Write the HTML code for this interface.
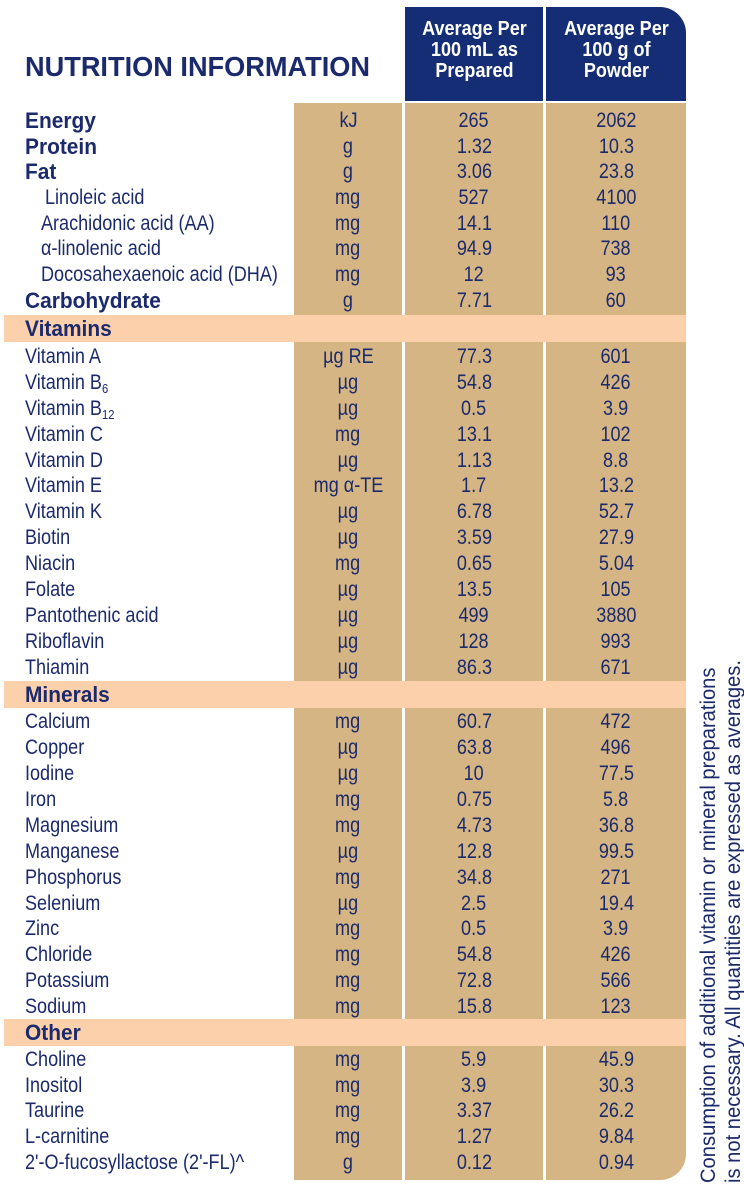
<!DOCTYPE html>
<html><head><meta charset="utf-8"><style>
*{margin:0;padding:0;box-sizing:border-box}
body{width:744px;height:1187px;background:#fff;position:relative;overflow:hidden;font-family:"Liberation Sans",Arial,sans-serif;color:#1b2a6c}
.bx{position:absolute}
.nav{background:#152d74}
.tan{background:#d5b583}
.band{position:absolute;left:4px;width:682px;background:#fdd0ac}
.r{position:absolute;left:0;width:686px;height:26px;line-height:26px;font-size:21px}
.r span{position:absolute;top:0;text-align:center;white-space:nowrap}
.r .l{left:25px;text-align:left}
.r .l i{font-style:normal;display:inline-block;transform:scaleX(.86);transform-origin:left center}
.r .u{left:294px;width:108px}
.r .a{left:405px;width:138px}
.r .b{left:546px;width:140px}
.r .u i,.r .a i,.r .b i{font-style:normal;display:inline-block;transform:scaleX(.86)}
.bold .l{font-weight:bold;font-size:22px}
.bold .l b{display:inline-block;transform:scaleX(.95);transform-origin:left center}
.hd{position:absolute;top:7px;height:94px;color:#fff;font-weight:bold;font-size:20.5px;line-height:21px;text-align:center;padding-top:11px}
.hd i{font-style:normal;display:inline-block;transform:scaleX(.88)}
sub{font-size:13px;vertical-align:-4px;line-height:0}
</style></head><body>
<div style="position:absolute;left:25px;top:51px;font-size:28px;font-weight:bold;white-space:nowrap;transform:scaleX(.97);transform-origin:left center">NUTRITION INFORMATION</div>
<div class="bx nav hd" style="left:405px;width:138px"><i>Average Per<br>100 mL as<br>Prepared</i></div>
<div class="bx nav hd" style="left:546px;width:140px;border-top-right-radius:26px"><i>Average Per<br>100 g of<br>Powder</i></div>
<div class="bx tan" style="left:294px;top:103px;width:108px;height:1077px"></div>
<div class="bx tan" style="left:405px;top:103px;width:138px;height:1077px"></div>
<div class="bx tan" style="left:546px;top:103px;width:140px;height:1077px;border-bottom-right-radius:26px"></div>
<div class="band" style="top:315px;height:27px"></div>
<div class="band" style="top:681px;height:27px"></div>
<div class="band" style="top:1019px;height:27px"></div>

<div class="r bold" style="top:108px"><span class="l"><b>Energy</b></span><span class="u"><i>kJ</i></span><span class="a"><i>265</i></span><span class="b"><i>2062</i></span></div>
<div class="r bold" style="top:134px"><span class="l"><b>Protein</b></span><span class="u"><i>g</i></span><span class="a"><i>1.32</i></span><span class="b"><i>10.3</i></span></div>
<div class="r bold" style="top:159px"><span class="l"><b>Fat</b></span><span class="u"><i>g</i></span><span class="a"><i>3.06</i></span><span class="b"><i>23.8</i></span></div>
<div class="r" style="top:185px"><span class="l" style="left:45px"><i>Linoleic acid</i></span><span class="u"><i>mg</i></span><span class="a"><i>527</i></span><span class="b"><i>4100</i></span></div>
<div class="r" style="top:211px"><span class="l" style="left:41px"><i>Arachidonic acid (AA)</i></span><span class="u"><i>mg</i></span><span class="a"><i>14.1</i></span><span class="b"><i>110</i></span></div>
<div class="r" style="top:236px"><span class="l" style="left:41px"><i>α-linolenic acid</i></span><span class="u"><i>mg</i></span><span class="a"><i>94.9</i></span><span class="b"><i>738</i></span></div>
<div class="r" style="top:262px"><span class="l" style="left:41px"><i>Docosahexaenoic acid (DHA)</i></span><span class="u"><i>mg</i></span><span class="a"><i>12</i></span><span class="b"><i>93</i></span></div>
<div class="r bold" style="top:288px"><span class="l"><b>Carbohydrate</b></span><span class="u"><i>g</i></span><span class="a"><i>7.71</i></span><span class="b"><i>60</i></span></div>
<div class="r bold" style="top:316px"><span class="l"><b>Vitamins</b></span></div>

<div class="r" style="top:344px"><span class="l"><i>Vitamin A</i></span><span class="u"><i>µg RE</i></span><span class="a"><i>77.3</i></span><span class="b"><i>601</i></span></div>
<div class="r" style="top:370px"><span class="l"><i>Vitamin B<sub>6</sub></i></span><span class="u"><i>µg</i></span><span class="a"><i>54.8</i></span><span class="b"><i>426</i></span></div>
<div class="r" style="top:396px"><span class="l"><i>Vitamin B<sub>12</sub></i></span><span class="u"><i>µg</i></span><span class="a"><i>0.5</i></span><span class="b"><i>3.9</i></span></div>
<div class="r" style="top:422px"><span class="l"><i>Vitamin C</i></span><span class="u"><i>mg</i></span><span class="a"><i>13.1</i></span><span class="b"><i>102</i></span></div>
<div class="r" style="top:448px"><span class="l"><i>Vitamin D</i></span><span class="u"><i>µg</i></span><span class="a"><i>1.13</i></span><span class="b"><i>8.8</i></span></div>
<div class="r" style="top:473px"><span class="l"><i>Vitamin E</i></span><span class="u"><i>mg α-TE</i></span><span class="a"><i>1.7</i></span><span class="b"><i>13.2</i></span></div>
<div class="r" style="top:499px"><span class="l"><i>Vitamin K</i></span><span class="u"><i>µg</i></span><span class="a"><i>6.78</i></span><span class="b"><i>52.7</i></span></div>
<div class="r" style="top:525px"><span class="l"><i>Biotin</i></span><span class="u"><i>µg</i></span><span class="a"><i>3.59</i></span><span class="b"><i>27.9</i></span></div>
<div class="r" style="top:551px"><span class="l"><i>Niacin</i></span><span class="u"><i>mg</i></span><span class="a"><i>0.65</i></span><span class="b"><i>5.04</i></span></div>
<div class="r" style="top:577px"><span class="l"><i>Folate</i></span><span class="u"><i>µg</i></span><span class="a"><i>13.5</i></span><span class="b"><i>105</i></span></div>
<div class="r" style="top:603px"><span class="l"><i>Pantothenic acid</i></span><span class="u"><i>µg</i></span><span class="a"><i>499</i></span><span class="b"><i>3880</i></span></div>
<div class="r" style="top:629px"><span class="l"><i>Riboflavin</i></span><span class="u"><i>µg</i></span><span class="a"><i>128</i></span><span class="b"><i>993</i></span></div>
<div class="r" style="top:655px"><span class="l"><i>Thiamin</i></span><span class="u"><i>µg</i></span><span class="a"><i>86.3</i></span><span class="b"><i>671</i></span></div>
<div class="r bold" style="top:682px"><span class="l"><b>Minerals</b></span></div>

<div class="r" style="top:709px"><span class="l"><i>Calcium</i></span><span class="u"><i>mg</i></span><span class="a"><i>60.7</i></span><span class="b"><i>472</i></span></div>
<div class="r" style="top:735px"><span class="l"><i>Copper</i></span><span class="u"><i>µg</i></span><span class="a"><i>63.8</i></span><span class="b"><i>496</i></span></div>
<div class="r" style="top:761px"><span class="l"><i>Iodine</i></span><span class="u"><i>µg</i></span><span class="a"><i>10</i></span><span class="b"><i>77.5</i></span></div>
<div class="r" style="top:787px"><span class="l"><i>Iron</i></span><span class="u"><i>mg</i></span><span class="a"><i>0.75</i></span><span class="b"><i>5.8</i></span></div>
<div class="r" style="top:813px"><span class="l"><i>Magnesium</i></span><span class="u"><i>mg</i></span><span class="a"><i>4.73</i></span><span class="b"><i>36.8</i></span></div>
<div class="r" style="top:839px"><span class="l"><i>Manganese</i></span><span class="u"><i>µg</i></span><span class="a"><i>12.8</i></span><span class="b"><i>99.5</i></span></div>
<div class="r" style="top:865px"><span class="l"><i>Phosphorus</i></span><span class="u"><i>mg</i></span><span class="a"><i>34.8</i></span><span class="b"><i>271</i></span></div>
<div class="r" style="top:891px"><span class="l"><i>Selenium</i></span><span class="u"><i>µg</i></span><span class="a"><i>2.5</i></span><span class="b"><i>19.4</i></span></div>
<div class="r" style="top:916px"><span class="l"><i>Zinc</i></span><span class="u"><i>mg</i></span><span class="a"><i>0.5</i></span><span class="b"><i>3.9</i></span></div>
<div class="r" style="top:942px"><span class="l"><i>Chloride</i></span><span class="u"><i>mg</i></span><span class="a"><i>54.8</i></span><span class="b"><i>426</i></span></div>
<div class="r" style="top:968px"><span class="l"><i>Potassium</i></span><span class="u"><i>mg</i></span><span class="a"><i>72.8</i></span><span class="b"><i>566</i></span></div>
<div class="r" style="top:994px"><span class="l"><i>Sodium</i></span><span class="u"><i>mg</i></span><span class="a"><i>15.8</i></span><span class="b"><i>123</i></span></div>
<div class="r bold" style="top:1020px"><span class="l"><b>Other</b></span></div>

<div class="r" style="top:1047px"><span class="l"><i>Choline</i></span><span class="u"><i>mg</i></span><span class="a"><i>5.9</i></span><span class="b"><i>45.9</i></span></div>
<div class="r" style="top:1073px"><span class="l"><i>Inositol</i></span><span class="u"><i>mg</i></span><span class="a"><i>3.9</i></span><span class="b"><i>30.3</i></span></div>
<div class="r" style="top:1098px"><span class="l"><i>Taurine</i></span><span class="u"><i>mg</i></span><span class="a"><i>3.37</i></span><span class="b"><i>26.2</i></span></div>
<div class="r" style="top:1124px"><span class="l"><i>L-carnitine</i></span><span class="u"><i>mg</i></span><span class="a"><i>1.27</i></span><span class="b"><i>9.84</i></span></div>
<div class="r" style="top:1150px"><span class="l"><i>2'-O-fucosyllactose (2'-FL)^</i></span><span class="u"><i>g</i></span><span class="a"><i>0.12</i></span><span class="b"><i>0.94</i></span></div>

<div style="position:absolute;left:696px;top:1183px;transform:rotate(-90deg);transform-origin:0 0;white-space:nowrap;font-size:21px;line-height:25px">
<div style="transform:scaleX(.96);transform-origin:left center">Consumption of additional vitamin or mineral preparations<br>is not necessary. All quantities are expressed as averages.</div>
</div>
</body></html>
